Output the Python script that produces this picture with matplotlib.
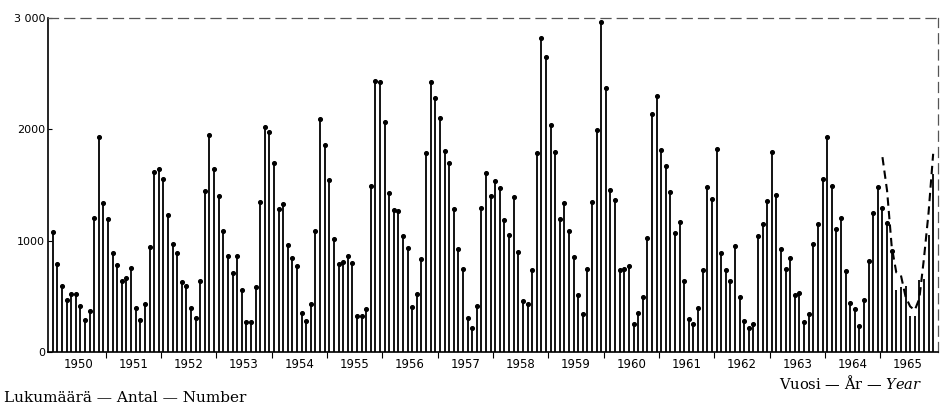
import matplotlib.pyplot as plt
from matplotlib.ticker import FixedLocator, NullFormatter
import numpy as np

# Monthly counts, Jan..Dec for each year
years = list(range(1950, 1966))
v1950 = [1080, 789, 594, 465, 522, 522, 414, 285, 366, 1200, 1935, 1335]
v1951 = [1191, 885, 780, 636, 669, 756, 396, 291, 435, 945, 1614, 1647]
v1952 = [1551, 1230, 966, 885, 630, 594, 396, 309, 638, 1446, 1946, 1647]
v1953 = [1404, 1087, 862, 713, 862, 557, 266, 266, 587, 1347, 2024, 1973]
v1954 = [1695, 1281, 1332, 961, 841, 775, 347, 278, 434, 1087, 2090, 1862]
v1955 = [1548, 1012, 790, 805, 865, 796, 323, 323, 386, 1491, 2434, 2425]
v1956 = [2066, 1425, 1275, 1263, 1045, 937, 404, 524, 835, 1790, 2428, 2281]
v1957 = [2105, 1802, 1695, 1284, 928, 743, 308, 213, 413, 1293, 1605, 1401]
v1958 = [1539, 1470, 1186, 1051, 1395, 895, 461, 431, 740, 1784, 2817, 2647]
v1959 = [2039, 1793, 1195, 1338, 1090, 850, 512, 341, 746, 1350, 1994, 2967]
v1960 = [2368, 1458, 1365, 734, 746, 769, 254, 347, 491, 1021, 2135, 2299]
v1961 = [1814, 1671, 1440, 1066, 1165, 641, 296, 254, 392, 740, 1485, 1371]
v1962 = [1820, 892, 740, 641, 955, 497, 278, 219, 251, 1045, 1147, 1356]
v1963 = [1796, 1410, 922, 746, 844, 515, 527, 272, 344, 967, 1150, 1551]
v1964 = [1934, 1494, 1108, 1207, 730, 437, 383, 234, 467, 817, 1245, 1482]
v1965 = [1290, 1160, 910, 555, 585, 590, 326, 326, 650, 660, 1050, 1600]
# dashed curve drawn over 1965
dash1965 = [1750, 1450, 950, 715, 690, 500, 410, 375, 480, 840, 1250, 1780]

yticks = [0, 1000, 2000, 3000]
ytick_labels = ['0', '1000', '2000', '3 000']

plt.rcParams['mathtext.fontset'] = 'dejavuserif'

values = np.array(v1950 + v1951 + v1952 + v1953 + v1954 + v1955 + v1956 + v1957 +
                  v1958 + v1959 + v1960 + v1961 + v1962 + v1963 + v1964 + v1965)
x = np.array([y + (m + 0.5) / 12 for y in years for m in range(12)])

fig = plt.figure(figsize=(9.42, 4.07), dpi=100)
ax = fig.add_axes([0.051, 0.135, 0.945, 0.821])

# stems
ax.vlines(x, 0, values, color='black', linewidth=1.3)
dotted = x < 1965.25
ax.scatter(x[dotted], values[dotted], s=7, color='black', zorder=3)

# dashed line for 1965
x65 = x[-12:]
ax.plot(x65, dash1965, color='black', linestyle=(0, (4, 2.5)), linewidth=1.5)

ax.set_xlim(1949.957, 1966.05)
ax.set_ylim(0, 3000)

# frame: left and bottom solid, top and right look broken in the print
for s in ['left', 'bottom']:
    ax.spines[s].set_linewidth(1.2)
for s in ['top', 'right']:
    ax.spines[s].set_linewidth(0.9)
    ax.spines[s].set_linestyle((0, (8, 5)))
    ax.spines[s].set_color('#555555')

ax.set_yticks(yticks)
ax.set_yticklabels(ytick_labels, fontsize=8)
ax.tick_params(axis='y', direction='in', length=3, pad=2)

# year boundaries as ticks, year names centred under each year
ax.xaxis.set_major_locator(FixedLocator(years[1:]))
ax.xaxis.set_major_formatter(NullFormatter())
ax.xaxis.set_minor_locator(FixedLocator([y + 0.5 for y in years]))
ax.set_xticklabels([str(y) for y in years], minor=True, fontsize=8.5)
ax.tick_params(axis='x', which='major', direction='out', length=4)
ax.tick_params(axis='x', which='minor', length=0, pad=4)

fig.text(0.979, 0.058, r'Vuosi — År — $\mathit{Year}$', family='DejaVu Serif',
         fontsize=10.5, ha='right', va='center')
fig.text(0.004, 0.004, 'Lukumäärä — Antal — Number', family='DejaVu Serif',
         fontsize=11, ha='left', va='bottom')

plt.savefig('out.png', dpi=100)
